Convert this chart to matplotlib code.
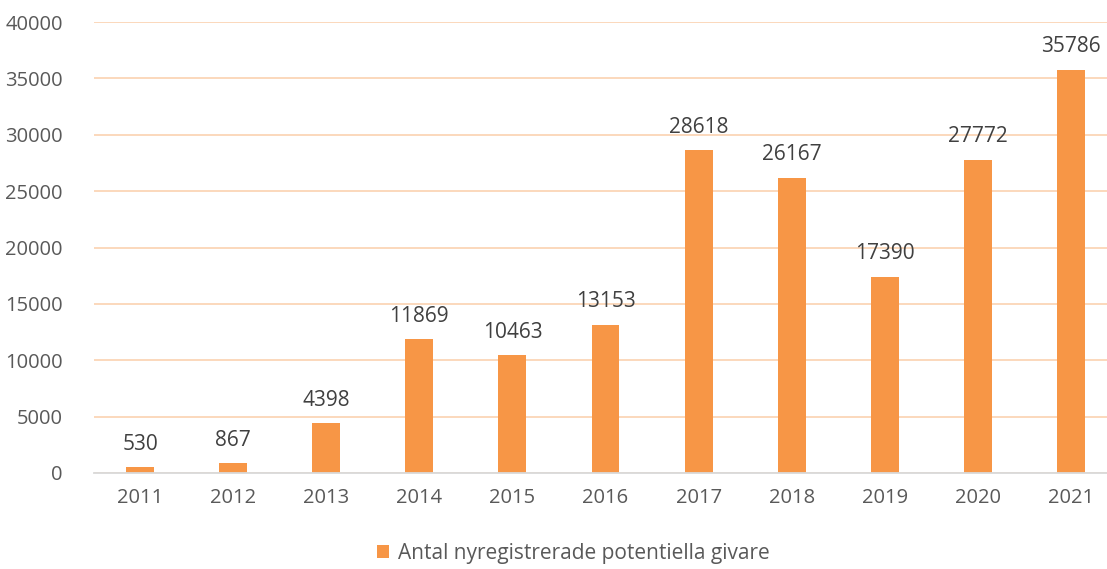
import matplotlib
matplotlib.use("Agg")
import matplotlib.pyplot as plt
from matplotlib.patches import Patch

years = ["2011", "2012", "2013", "2014", "2015", "2016", "2017", "2018", "2019", "2020", "2021"]
values = [530, 867, 4398, 11869, 10463, 13153, 28618, 26167, 17390, 27772, 35786]
series_name = "Antal nyregistrerade potentiella givare"
yticks = [0, 5000, 10000, 15000, 20000, 25000, 30000, 35000, 40000]

bar_color = "#F79646"
grid_color = "#FBD6B6"
text_color = "#595959"
plt.rcParams['font.family'] = ['Open Sans', 'DejaVu Sans']

W, H = 1107, 569
fig = plt.figure(figsize=(W / 100, H / 100), dpi=100)
left_px, right_px, top_px, bottom_px = 93.5, 1117.5, 22, 473
ax = fig.add_axes([left_px / W, (H - bottom_px) / H, (right_px - left_px) / W, (bottom_px - top_px) / H])

x = list(range(len(years)))
bars = ax.bar(x, values, width=0.30, color=bar_color, zorder=3)
ax.set_xlim(-0.5, len(years) - 0.5)
ax.set_ylim(0, 40000)
ax.set_yticks(yticks)
ax.set_yticklabels([str(t) for t in yticks])
ax.set_xticks(x)
ax.set_xticklabels(years)
ax.yaxis.grid(True, color=grid_color, linewidth=1.3, zorder=0)
ax.set_axisbelow(True)
for s in ["top", "right", "left"]:
    ax.spines[s].set_visible(False)
ax.spines["bottom"].set_color("#D9D9D9")
ax.spines["bottom"].set_linewidth(1.3)
ax.spines["bottom"].set_zorder(4)
ax.tick_params(axis="both", length=0, labelsize=14.5, colors=text_color)
ax.tick_params(axis="y", pad=22)
ax.tick_params(axis="x", pad=11)

for b, v in zip(bars, values):
    ax.annotate(str(v), (b.get_x() + b.get_width() / 2, v), xytext=(0, 9),
                textcoords="offset points", ha="center", va="bottom",
                fontsize=15, color="#404040")

handle = Patch(facecolor=bar_color, edgecolor="none")
fig.legend([handle], [series_name], loc="center", bbox_to_anchor=(573 / W, 1 - 553 / H),
           frameon=False, fontsize=15, labelcolor=text_color, handlelength=0.6,
           handleheight=0.6, handletextpad=0.4)

fig.savefig("out.png", dpi=100)
